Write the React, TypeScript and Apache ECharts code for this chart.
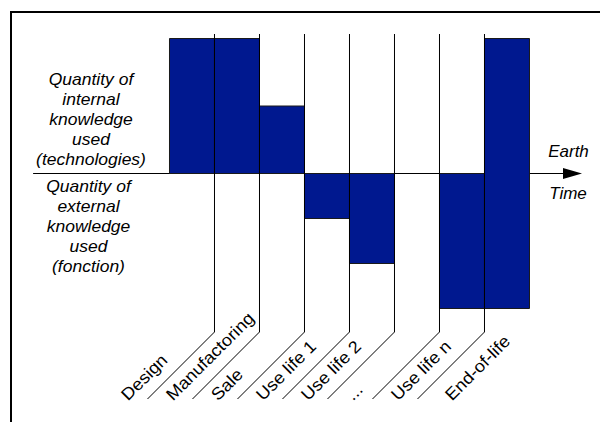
import React, { useEffect, useRef } from 'react';
import * as echarts from 'echarts';

// ---- data ----
const categories = ['Design', 'Manufactoring', 'Sale', 'Use life 1', 'Use life 2', '...', 'Use life n', 'End-of-life'];
const internalKnowledge = [3, 3, 1.5, 0, 0, 0, 0, 3];
const externalKnowledge = [0, 0, 0, -1, -2, 0, -3, -3];
const internalLabel = ['Quantity of', 'internal', 'knowledge', 'used', '(technologies)'];
const externalLabel = ['Quantity of', 'external', 'knowledge', 'used', '(fonction)'];
const axisNames = ['Earth', 'Time'];

// ---- layout / style ----
const X_MIN = -3.0222;
const X_MAX = 8.9556;
const Y_MIN = -3;
const Y_MAX = 3;
const BAR_COLOR = '#00188F';
const FONT = '"Liberation Sans", Arial, sans-serif';
const LINE_OVERSHOOT = 4.5;
const BEND_BELOW = 23.5;
const DIAG = 67;
const LABEL_DX = -39.5;
const LABEL_DY = 4.5;
const FREE_LABEL_NUDGE = 9;
const LABEL_STRETCH = 1.08;
const SIDE_STRETCH = 1.06;

export default function App() {
  const ref = useRef<HTMLDivElement>(null);
  useEffect(() => {
    const chart = echarts.init(ref.current!, null, { renderer: 'svg' });
    const n = categories.length;
    const barData = categories.map((c, i) => [i, internalKnowledge[i], externalKnowledge[i]]);
    const phaseData = categories.map((c, i) => [i, 0]);

    const textStyle = (text: string, extra: any) => ({
      text,
      fill: '#000',
      fontFamily: FONT,
      ...extra,
    });

    const option: any = {
      animation: false,
      backgroundColor: '#ffffff',
      grid: { left: 33.5, right: 27.5, top: 38.5, bottom: 113.5 },
      xAxis: {
        type: 'value',
        min: X_MIN,
        max: X_MAX,
        axisLine: {
          show: true,
          onZero: true,
          symbol: ['none', 'triangle'],
          symbolSize: [11, 19],
          lineStyle: { color: '#000', width: 1 },
        },
        axisTick: { show: false },
        axisLabel: { show: false },
        splitLine: { show: false },
      },
      yAxis: { type: 'value', min: Y_MIN, max: Y_MAX, show: false },
      series: [
        {
          type: 'custom',
          name: 'knowledge',
          data: barData,
          encode: { x: 0, y: [1, 2] },
          z: 2,
          renderItem: (params: any, api: any) => {
            const i = api.value(0);
            const top = api.value(1);
            const bottom = api.value(2);
            if (top === bottom) return null;
            const p1 = api.coord([i, top]);
            const p2 = api.coord([i + 1, bottom]);
            return {
              type: 'rect',
              shape: { x: p1[0], y: p1[1], width: p2[0] - p1[0], height: p2[1] - p1[1] },
              style: { fill: BAR_COLOR, stroke: '#1a1a1a', lineWidth: 1 },
            };
          },
        },
        {
          type: 'custom',
          name: 'phases',
          data: phaseData,
          encode: { x: 0, y: 1 },
          z: 3,
          renderItem: (params: any, api: any) => {
            const i = api.value(0);
            const idx = params.dataIndex;
            const children: any[] = [];
            const bottomY = api.coord([i, Y_MIN])[1];
            const bendY = bottomY + BEND_BELOW;
            const hasConnector = idx < n - 1;
            if (hasConnector) {
              const x = api.coord([i + 1, 0])[0];
              const topY = api.coord([i, Y_MAX])[1] - LINE_OVERSHOOT;
              children.push({
                type: 'polyline',
                shape: { points: [[x, topY], [x, bendY], [x - DIAG, bendY + DIAG]] },
                style: { stroke: '#000', lineWidth: 1, fill: null },
              });
            }
            const lx = api.coord([i, 0])[0] + LABEL_DX + (hasConnector ? 0 : FREE_LABEL_NUDGE);
            const ly = bendY + DIAG + LABEL_DY;
            children.push({
              type: 'text',
              x: lx,
              y: ly,
              rotation: Math.PI / 4,
              scaleX: LABEL_STRETCH,
              style: textStyle(categories[idx], {
                fontSize: 17,
                lineHeight: 17,
                align: 'left',
                verticalAlign: 'bottom',
                textAlign: 'left',
                textVerticalAlign: 'bottom',
              }),
            });
            return { type: 'group', children };
          },
        },
      ],
      graphic: [
        {
          type: 'polyline',
          shape: { points: [[11, 422], [11, 12], [600, 12]] },
          style: { stroke: '#000', lineWidth: 2, fill: null },
        },
        {
          type: 'text',
          x: 91,
          y: 69.5,
          scaleX: SIDE_STRETCH,
          style: textStyle(internalLabel.join('\n'), {
            fontSize: 16.5,
            fontStyle: 'italic',
            lineHeight: 20,
            align: 'center',
            verticalAlign: 'top',
            textAlign: 'center',
            textVerticalAlign: 'top',
          }),
        },
        {
          type: 'text',
          x: 88.5,
          y: 176.5,
          scaleX: SIDE_STRETCH,
          style: textStyle(externalLabel.join('\n'), {
            fontSize: 16.5,
            fontStyle: 'italic',
            lineHeight: 20,
            align: 'center',
            verticalAlign: 'top',
            textAlign: 'center',
            textVerticalAlign: 'top',
          }),
        },
        {
          type: 'text',
          x: 568.5,
          y: 151.8,
          style: textStyle(axisNames[0], {
            fontSize: 17,
            fontStyle: 'italic',
            align: 'center',
            verticalAlign: 'middle',
            textAlign: 'center',
            textVerticalAlign: 'middle',
          }),
        },
        {
          type: 'text',
          x: 568,
          y: 193.5,
          style: textStyle(axisNames[1], {
            fontSize: 17,
            fontStyle: 'italic',
            align: 'center',
            verticalAlign: 'middle',
            textAlign: 'center',
            textVerticalAlign: 'middle',
          }),
        },
      ],
    };
    chart.setOption(option);
    return () => chart.dispose();
  }, []);

  return (
    <div
      ref={ref}
      style={{ position: 'absolute', left: 0, top: 0, width: 600, height: 422 }}
    />
  );
}
